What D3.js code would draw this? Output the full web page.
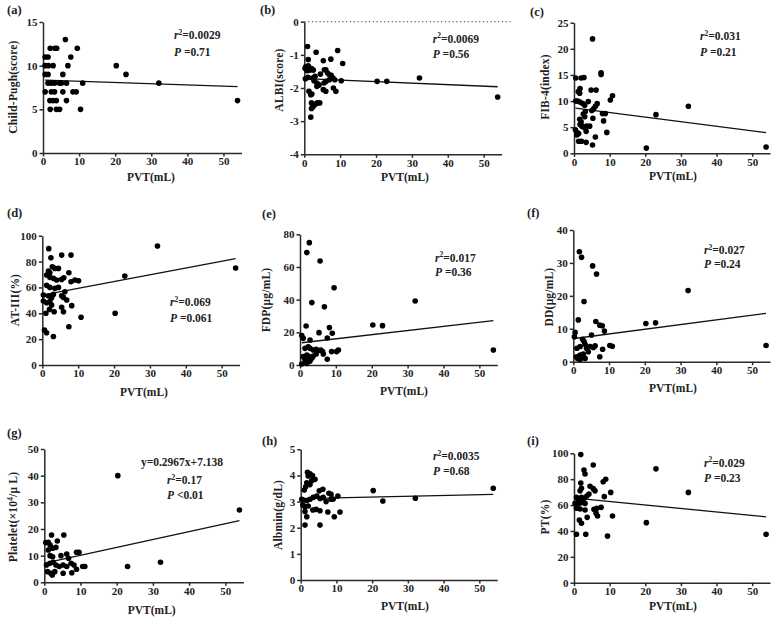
<!DOCTYPE html>
<html>
<head>
<meta charset="utf-8">
<script src="https://cdn.jsdelivr.net/npm/d3@7"></script>
<style>
body { margin: 0; background: #fff; }
.axis path, .axis line { stroke: #2a2a2a; stroke-width: 1.5; }
</style>
</head>
<body>
<div id="viz"></div>
<script>
var width = 779;
var height = 620;
var serif = "'Liberation Serif', 'Times New Roman', serif";

// PVT (mL) ticks, shared by every panel
var pvtTicks = [0, 10, 20, 30, 40, 50];

// points: [PVT, value]
var childPugh = [[6.2,13],[2,12],[3.3,12],[3.8,12],[9.5,12],[0.6,11],[1.4,11],[7.7,11],
  [0.6,10],[1.5,10],[2.8,10],[6.9,10],[20.3,10],[0.6,9],[1.4,9],[5.5,9],[23,9],
  [1.4,8],[2.3,8],[3.2,8],[4.6,8],[5.1,8],[6.5,8],[11,8],[32.1,8],
  [0.6,7],[2.3,7],[3.2,7],[5.5,7],[8.3,7],[9.2,7],[1.9,6],[2.8,6],[3.7,6],[6.5,6],[53.9,6],
  [2,5],[3.7,5],[4.6,5],[10.4,5]];
var albi = [[0.9,-0.75],[3.3,-0.92],[9.3,-0.87],[1.1,-1.14],[5.3,-1.18],[7.4,-1.13],[10.7,-1.26],
  [0.4,-1.36],[1.1,-1.33],[1.6,-1.46],[2.0,-1.41],[2.5,-1.46],[0.8,-1.48],[0.2,-1.41],
  [0.3,-1.72],[1.0,-1.68],[2.3,-1.7],[2.7,-1.78],[3.0,-1.65],[3.5,-1.85],[4.0,-1.92],[4.5,-1.58],
  [5.6,-1.45],[6.0,-1.45],[6.5,-1.55],[7.0,-1.6],[7.5,-1.62],[8.0,-1.7],[8.5,-1.75],
  [5.5,-1.85],[6.1,-1.8],[7.0,-1.75],[5.3,-2.05],[6.0,-2.1],[8.1,-2.0],[8.8,-2.1],
  [1.3,-2.1],[1.8,-2.2],[2.1,-2.18],[10.3,-1.78],[3.5,-1.95],[4.1,-1.9],
  [2.0,-2.45],[2.5,-2.55],[3.0,-2.5],[3.6,-2.45],[4.3,-2.45],[2.0,-2.62],[2.3,-2.58],[1.8,-2.88],
  [20.3,-1.8],[23,-1.8],[32.1,-1.7],[53.9,-2.27]];
var fib4 = [[5.2,21.9],[7.6,15.4],[7.6,15.1],[0.5,14.4],[2.0,14.4],[2.8,14.5],[4.8,12.1],[6.2,12.1],
  [1.7,12.4],[1.6,11.5],[1.2,11.8],[10.8,11],[10.2,10.2],[0.5,10],[1.0,10],[1.7,9.8],
  [2.5,9.5],[3.0,9.2],[4.0,9.9],[6.5,9.5],[6.0,9.0],[5.5,8.5],[5.0,8.2],[3.2,8.0],[3.0,7.0],[2.6,7.5],
  [8.0,7.6],[8.8,7.6],[8.3,6.2],[5.3,6.7],[1.6,6.5],[2.0,6.0],[1.7,5.5],[2.2,5.2],[2.7,5.0],
  [3.5,5.2],[4.4,5.2],[0.4,4.5],[0.8,4.0],[1.3,3.8],[0.8,3.5],[3.4,4.2],[9.2,4.0],[6.0,3.1],
  [5.2,1.6],[1.3,2.3],[2.1,2.3],[3.4,2.1],[20.3,1.0],[23,7.4],[32.1,9.0],[53.9,1.2]];
var at3 = [[1.8,90],[8.0,85],[5.4,85],[2.4,83],[1.7,72.7],[2.1,71.4],[2.8,76],[3.5,74.7],[4.5,74.7],
  [7.4,71.4],[1.2,69.6],[2.1,67.8],[3.1,67],[4.0,65.7],[5.4,66.2],[6.0,67.5],[9.1,65.7],[10.1,65.2],
  [8.0,64.4],[1.2,61.6],[2.1,60],[3.5,59.3],[4.5,60],[6.3,56.7],[0.3,54.1],[1.7,53.4],[2.6,52],
  [3.1,54.6],[5.4,53.6],[5.9,52.3],[6.8,50.3],[0.3,49.5],[1.2,48.2],[2.1,49],[2.6,46.4],[8.2,45.9],
  [5.4,44.6],[2.0,43],[1.0,40],[3.3,41.2],[5.9,41.2],[10.8,36.9],[7.4,29.6],[0.6,27],[1.2,25],
  [3.1,22],[20.3,40],[23,68.8],[32.1,92],[53.9,75]];
var fdp = [[2.6,74.9],[1.9,68.8],[5.6,63.7],[9.5,47.3],[3.3,38.2],[6.8,35.7],[32.1,39.2],[1.7,23.9],
  [8.2,22.9],[5.3,19.8],[9.0,19.4],[7.6,16.5],[0.5,18],[0.9,16.3],[2.8,15.3],[20.3,24.5],[23,24.1],
  [1.4,10.2],[2.3,11.2],[2.8,10.2],[3.7,9.2],[4.5,9.6],[5.1,8.8],[5.8,9.2],[6.3,8.2],[6.5,6.7],
  [1.9,6.1],[2.5,5.1],[3.3,4.1],[0.9,5.1],[1.4,3.1],[2.8,2.4],[1.9,1.0],[0.5,0.6],[8.8,8.2],
  [10.7,9.2],[10.2,8.2],[7.6,3.5],[4.5,6.7],[3.7,5.5],[53.9,9.2]];
var dd = [[1.7,33.4],[2.3,31.7],[5.4,29.1],[6.5,26.6],[3.0,18.3],[32.1,21.6],[1.4,12.7],[6.3,12.2],
  [7.4,11.1],[8.1,10.9],[20.3,11.6],[23,11.8],[0.5,8.9],[0.3,7.6],[8.7,9.3],[5.1,8.1],[2.6,6.8],
  [3.0,6.1],[1.9,4.6],[1.0,4.1],[3.3,5.3],[3.7,4.1],[4.7,4.6],[5.6,4.3],[6.1,4.8],[8.2,3.8],
  [10.2,4.9],[10.9,4.7],[2.8,2.3],[1.9,2.0],[0.9,1.5],[2.3,1.5],[3.3,1.0],[7.4,1.5],[1.2,1.0],
  [1.9,0.7],[4.2,3.0],[53.9,4.9]];
var platelet = [[20.3,40],[53.9,27.1],[23,5.9],[32.1,7.5],[2.0,17.75],[5.4,17.75],[0.4,14.9],[1.1,15],
  [1.6,14],[3.6,15.5],[2.3,12.75],[3.2,13.1],[1.1,12.1],[4.6,10],[6.2,10.6],[8.9,11.25],[9.6,11.25],
  [1.6,10],[2.3,9.6],[6.7,9],[0.6,6.5],[1.6,7.1],[2.5,7.5],[3.2,6.5],[4.1,5.9],[5.2,6.5],[6.2,5.9],
  [7.4,7.1],[8.2,6.5],[10.6,5.9],[11.2,5.9],[0.9,4],[1.8,3.4],[2.9,4],[5.2,3.4],[7.6,3.6],[8.9,4.9],
  [2.2,2.75]];
var albumin = [[1.9,4.12],[2.6,4.06],[2.1,3.98],[3.3,4.0],[4.0,3.85],[3.1,3.8],[1.7,3.72],[1.0,3.44],
  [1.4,3.57],[2.6,3.65],[6.2,3.47],[5.2,3.41],[7.9,3.32],[8.5,3.28],[10.4,3.21],[4.5,3.21],[3.5,3.16],
  [0.3,3.09],[0.7,3.06],[1.7,3.04],[2.6,3.09],[5.4,3.12],[6.3,3.16],[7.1,3.0],[9.1,3.1],[8.5,3.09],
  [0.6,2.87],[1.2,2.8],[2.1,2.83],[3.4,2.68],[4.3,2.7],[5.4,2.65],[7.6,2.6],[11,2.6],[1.2,2.62],
  [1.7,2.42],[9.4,2.42],[1.2,2.1],[5.4,2.1],[20.3,3.42],[23,3.02],[32.1,3.13],[53.9,3.51]];
var pt = [[1.9,99],[5.4,91],[2.8,87],[3.1,84],[23,88],[8.9,80],[8.2,78],[1.9,77],[4.5,74.5],[5.4,72.7],
  [5.9,71],[2.1,73],[10.3,69.8],[32.1,69.8],[1.7,71],[0.7,66],[1.2,64.4],[2.1,66],[2.8,65.2],[3.6,67],
  [4.2,68.6],[8.5,66.5],[0.3,61.3],[1.2,60.8],[2.1,61.9],[3.1,61.3],[0.7,57.5],[1.7,57],[3.1,56.2],
  [5.6,56.7],[6.4,57.5],[7.6,58.2],[6.2,53.6],[6.6,51.5],[10.8,51.5],[1.5,48.5],[2.1,45.9],[3.7,50.5],
  [0.7,37.4],[3.3,37.4],[9.4,36],[20.3,46.4],[53.9,37.4]];

// fitted lines as drawn: [intercept, slope]
var fits = [[8.35,-0.0138],[-1.714,-0.0046],[8.7,-0.0878],[54.0,0.523],[13.5,0.254],
  [7.0,0.1426],[7.138,0.2967],[3.11,0.0031],[65.5,-0.271]];

var panelLetters = ["(a)","(b)","(c)","(d)","(e)","(f)","(g)","(h)","(i)"];
var yTitles = ["Child-Pugh(score)","ALBI(score)","FIB-4(index)","AT-III(%)","FDP(\u03bcg/mL)",
  "DD(\u03bcg/mL)","Platelet(\u00d710|4|/\u03bc L)","Albmin(g/dL)","PT(%)"];
var yTicks = [[0,5,10,15],[-4,-3,-2,-1,0],[0,5,10,15,20,25],[0,20,40,60,80,100],[0,20,40,60,80],
  [0,10,20,30,40],[0,10,20,30,40,50],[0,1,2,3,4,5],[0,20,40,60,80,100]];
var r2Text = ["0.0029","0.0069","0.031","0.069","0.017","0.027","0.17","0.0035","0.029"];
var pText = ["=0.71","=0.56","=0.21","=0.061","=0.36","=0.24","<0.01","=0.68","=0.23"];
var equation = ["","","","","","","y=0.2967x+7.138","",""];

var series = [childPugh, albi, fib4, at3, fdp, dd, platelet, albumin, pt];

// where each sub-figure sits on the page
var layout = [
  {l:43, r:241.5, t:22, b:153, lx:7, ly:14, tx:16.5, ty:87, xx:151, xy:181, sx:174, sy:39.3, sd:16.7},
  {l:304.3, r:501.6, t:21.7, b:154.3, lx:260, ly:14, tx:283, ty:80, xx:405, xy:181, sx:432.7, sy:42.7, sd:15.6},
  {l:574, r:770, t:22.7, b:153.3, lx:530, ly:16, tx:549, ty:87, xx:673, xy:180, sx:700, sy:40, sd:15.7},
  {l:42.3, r:239.6, t:235.7, b:365, lx:7, ly:217, tx:18.5, ty:300, xx:144, xy:395.5, sx:170, sy:306, sd:15.7},
  {l:300, r:497.3, t:234.3, b:365, lx:262, ly:218, tx:270, ty:300, xx:404, xy:395, sx:435, sy:261.7, sd:14.3},
  {l:573.3, r:770, t:230, b:361.7, lx:527, ly:217, tx:553, ty:297, xx:673, xy:392, sx:704, sy:254, sd:14.3},
  {l:44.3, r:243.4, t:449, b:582.3, lx:7, ly:437, tx:17, ty:517, xx:151.7, xy:614, sx:167, sy:484, sd:15},
  {l:300.7, r:497.2, t:449.3, b:580, lx:262, ly:445, tx:282, ty:515, xx:405, xy:610, sx:433, sy:460, sd:15},
  {l:574, r:770, t:453.3, b:582.7, lx:527, ly:445, tx:549, ty:517, xx:673, xy:610, sx:704, sy:466.7, sd:15}
];

var svg = d3.select("#viz").append("svg")
   .attr("width", width)
   .attr("height", height)
   .attr("font-family", serif);

function label(sel, size) {
   return sel.style("font-family", serif)
      .style("font-weight", "bold")
      .style("font-size", size + "px")
      .style("fill", "#222");
}

series.forEach(function(pts, i) {
   var L = layout[i];
   var ticks = yTicks[i];
   var x = d3.scaleLinear().domain([0, 55]).range([L.l, L.r]);
   var y = d3.scaleLinear().domain([ticks[0], ticks[ticks.length - 1]]).range([L.b, L.t]);
   var g = svg.append("g");

   label(g.append("text")
      .attr("x", L.lx)
      .attr("y", L.ly), 12.5)
      .text(panelLetters[i]);

   // zero reference for ALBI
   if (i == 1) {
      g.append("line")
         .attr("x1", x(0)).attr("x2", x(57.5))
         .attr("y1", y(0)).attr("y2", y(0))
         .style("stroke", "#333")
         .style("stroke-width", 1.1)
         .style("stroke-dasharray", "1.2,2.6");
   }

   var xa = g.append("g")
      .attr("class", "axis")
      .attr("transform", "translate(0," + L.b + ")")
      .call(d3.axisBottom(x).tickValues(pvtTicks).tickSize(3.5).tickSizeOuter(0).tickPadding(1));
   label(xa.selectAll("text"), 11);

   var ya = g.append("g")
      .attr("class", "axis")
      .attr("transform", "translate(" + L.l + ",0)")
      .call(d3.axisLeft(y).tickValues(ticks).tickSize(3.5).tickSizeOuter(0).tickPadding(2)
         .tickFormat(function(d) { return String(d); }));
   label(ya.selectAll("text"), 11);

   g.selectAll(".axis path.domain").style("fill", "none");

   // fitted line over the PVT range of the points
   var ext = d3.extent(pts, function(d) { return d[0]; });
   var f = fits[i];
   g.append("line")
      .attr("x1", x(ext[0])).attr("y1", y(f[0] + f[1] * ext[0]))
      .attr("x2", x(ext[1])).attr("y2", y(f[0] + f[1] * ext[1]))
      .style("stroke", "#111")
      .style("stroke-width", 1.3);

   g.selectAll("circle")
      .data(pts)
      .enter().append("circle")
      .attr("cx", function(d) { return x(d[0]); })
      .attr("cy", function(d) { return y(d[1]); })
      .attr("r", 2.8)
      .style("fill", "#000");

   // axis titles
   label(g.append("text")
      .attr("x", L.xx)
      .attr("y", L.xy)
      .attr("text-anchor", "middle"), 11.5)
      .text("PVT(mL)");

   var yt = label(g.append("text")
      .attr("transform", "translate(" + L.tx + "," + L.ty + ") rotate(-90)")
      .attr("text-anchor", "middle"), 11.5)
      .style("letter-spacing", "0.2px");
   yTitles[i].split("|").forEach(function(part, k) {
      var sp = yt.append("tspan").text(part);
      if (k == 1) sp.attr("dy", -4).style("font-size", "7.5px");
      if (k == 2) sp.attr("dy", 4);
   });

   // stats block
   var sy = L.sy;
   if (equation[i]) {
      label(g.append("text")
         .attr("x", L.sx + 15)
         .attr("y", sy - 18)
         .attr("text-anchor", "middle"), 11.5)
         .text(equation[i]);
   }
   var t1 = label(g.append("text").attr("x", L.sx).attr("y", sy), 11.5);
   t1.append("tspan").style("font-style", "italic").text("r");
   t1.append("tspan").attr("dy", -4.5).style("font-size", "7.5px").text("2");
   t1.append("tspan").attr("dy", 4.5).text("=" + r2Text[i]);

   var t2 = label(g.append("text").attr("x", L.sx).attr("y", sy + L.sd), 11.5);
   t2.append("tspan").style("font-style", "italic").text("P");
   t2.append("tspan").text(" " + pText[i]);
});
</script>
</body>
</html>
